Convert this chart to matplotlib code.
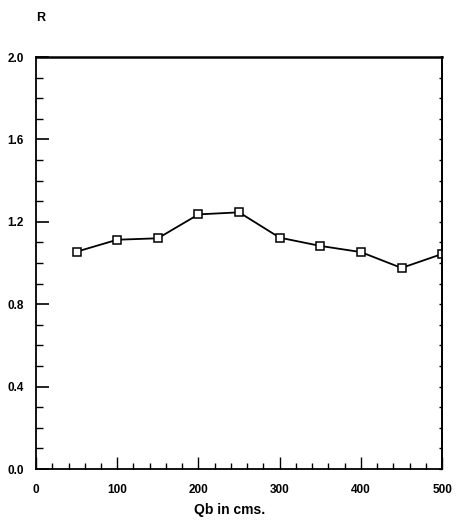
import matplotlib.pyplot as plt
from matplotlib.ticker import MultipleLocator

# discharge (cms) and ratio R
qb = [50, 100, 150, 200, 250, 300, 350, 400, 450, 500]
r_vals = [1.055, 1.113, 1.120, 1.236, 1.246, 1.123, 1.083, 1.053, 0.976, 1.044]

x_ticks = [0, 100, 200, 300, 400, 500]
y_ticks = [0.0, 0.4, 0.8, 1.2, 1.6, 2.0]

plt.rcParams['font.family'] = ['Liberation Sans', 'DejaVu Sans']

fig = plt.figure(figsize=(4.57, 5.22), dpi=100)
ax = fig.add_axes([0.0788, 0.1015, 0.8887, 0.7893])

ax.plot(qb, r_vals, color='black', linewidth=1.3, marker='s', markersize=5.5,
        markerfacecolor='white', markeredgecolor='black', markeredgewidth=1.1)

ax.set_xlim(0, 500)
ax.set_ylim(0, 2.0)
ax.set_xticks(x_ticks)
ax.set_yticks(y_ticks)
ax.set_xticklabels([str(t) for t in x_ticks], fontsize=8.5, fontweight='bold')
ax.set_yticklabels(['%.1f' % t for t in y_ticks], fontsize=8.5, fontweight='bold')
ax.xaxis.set_minor_locator(MultipleLocator(20))
ax.yaxis.set_minor_locator(MultipleLocator(0.1))

ax.tick_params(axis='x', which='major', direction='in', length=9, width=1.0, pad=11)
ax.tick_params(axis='x', which='minor', direction='in', length=4, width=1.0)
ax.tick_params(axis='y', which='major', direction='in', length=9, width=1.2, pad=9)
ax.tick_params(axis='y', which='minor', direction='in', length=5, width=1.0)

# short marks on the right border
rax = ax.secondary_yaxis('right')
rax.set_yticks(y_ticks)
rax.yaxis.set_minor_locator(MultipleLocator(0.1))
rax.tick_params(which='both', direction='in', length=2, width=1.0, labelright=False)
rax.spines['right'].set_linewidth(1.3)

for side in ['left', 'bottom', 'right']:
    ax.spines[side].set_linewidth(1.3)
ax.spines['top'].set_linewidth(1.8)

fig.text(0.088, 0.965, 'R', fontsize=9, fontweight='bold', ha='center', va='center')
fig.text(0.503, 0.023, 'Qb in cms.', fontsize=10, fontweight='bold',
         ha='center', va='center')

fig.savefig('out.png', dpi=100)
